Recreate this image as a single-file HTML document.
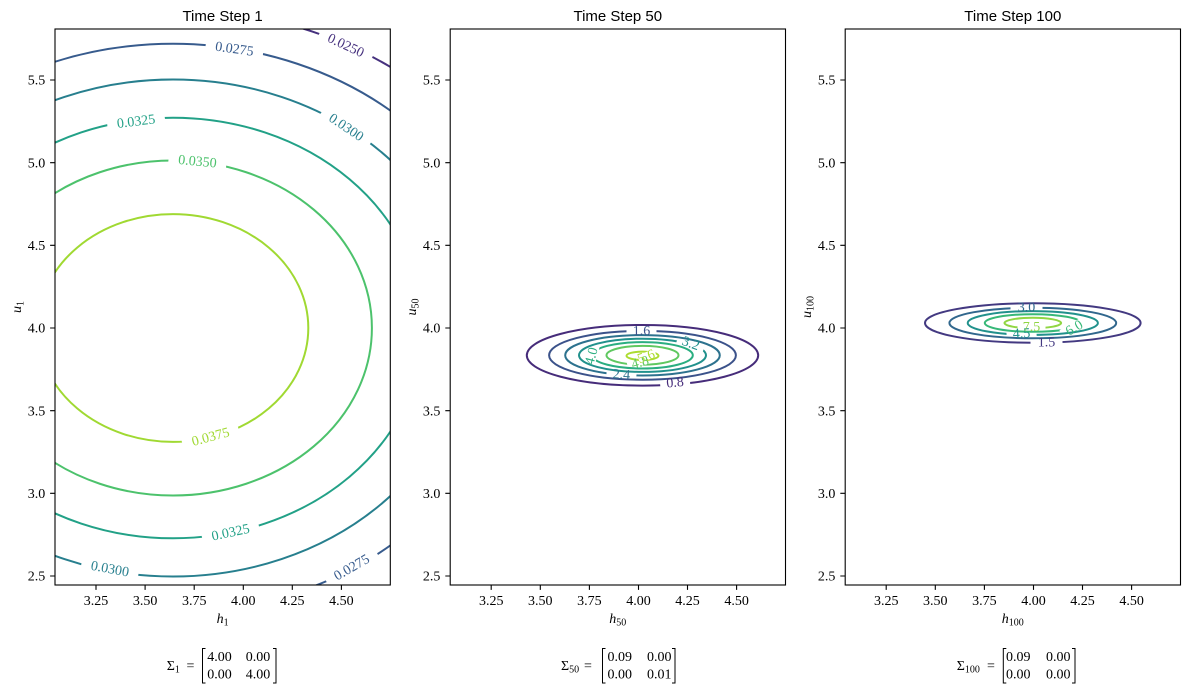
<!DOCTYPE html>
<html><head><meta charset="utf-8"><style>
html,body{margin:0;padding:0;background:#fff;}
svg{display:block;}
.t{font-family:"Liberation Serif",serif;font-size:14px;}
.ti{font-family:"Liberation Sans",sans-serif;font-size:15px;}
.lb{font-family:"Liberation Serif",serif;font-size:14px;}
</style></head><body>
<svg width="1189" height="692" viewBox="0 0 1189 692" xmlns="http://www.w3.org/2000/svg">
<rect width="1189" height="692" fill="#fff"/>
<defs>
<clipPath id="c1"><rect x="55" y="29" width="335.3" height="556"/></clipPath>
<clipPath id="c2"><rect x="450.2" y="29" width="335.3" height="556"/></clipPath>
<clipPath id="c3"><rect x="845.2" y="29" width="335.3" height="556"/></clipPath>
<mask id="p1a" maskUnits="userSpaceOnUse" x="0" y="0" width="1189" height="692"><rect width="1189" height="692" fill="#fff"/><rect x="-29" y="-7" width="58" height="14" transform="translate(346,45) rotate(25)"/></mask>
<mask id="p1b" maskUnits="userSpaceOnUse" x="0" y="0" width="1189" height="692"><rect width="1189" height="692" fill="#fff"/><rect x="-29" y="-7" width="58" height="14" transform="translate(234.5,48.5) rotate(8)"/><rect x="-29" y="-7" width="58" height="14" transform="translate(351.5,567) rotate(-30)"/></mask>
<mask id="p1c" maskUnits="userSpaceOnUse" x="0" y="0" width="1189" height="692"><rect width="1189" height="692" fill="#fff"/><rect x="-29" y="-7" width="58" height="14" transform="translate(346.5,127) rotate(34)"/><rect x="-29" y="-7" width="58" height="14" transform="translate(110,568.5) rotate(10.5)"/></mask>
<mask id="p1d" maskUnits="userSpaceOnUse" x="0" y="0" width="1189" height="692"><rect width="1189" height="692" fill="#fff"/><rect x="-29" y="-7" width="58" height="14" transform="translate(136,121) rotate(-7)"/><rect x="-29" y="-7" width="58" height="14" transform="translate(230.5,532) rotate(-12)"/></mask>
<mask id="p1e" maskUnits="userSpaceOnUse" x="0" y="0" width="1189" height="692"><rect width="1189" height="692" fill="#fff"/><rect x="-29" y="-7" width="58" height="14" transform="translate(197.5,161) rotate(5.5)"/></mask>
<mask id="p1f" maskUnits="userSpaceOnUse" x="0" y="0" width="1189" height="692"><rect width="1189" height="692" fill="#fff"/><rect x="-29" y="-7" width="58" height="14" transform="translate(210.5,436.5) rotate(-15)"/></mask>
<mask id="p2a" maskUnits="userSpaceOnUse" x="0" y="0" width="1189" height="692"><rect width="1189" height="692" fill="#fff"/><rect x="-15" y="-6" width="30" height="12" transform="translate(675,382) rotate(-5)"/></mask>
<mask id="p2b" maskUnits="userSpaceOnUse" x="0" y="0" width="1189" height="692"><rect width="1189" height="692" fill="#fff"/><rect x="-15" y="-6" width="30" height="12" transform="translate(641.5,330.5)"/></mask>
<mask id="p2c" maskUnits="userSpaceOnUse" x="0" y="0" width="1189" height="692"><rect width="1189" height="692" fill="#fff"/><rect x="-15" y="-5" width="30" height="10" transform="translate(621.5,374) rotate(4)"/></mask>
<mask id="p2d" maskUnits="userSpaceOnUse" x="0" y="0" width="1189" height="692"><rect width="1189" height="692" fill="#fff"/><rect x="-14" y="-5" width="28" height="10" transform="translate(691,343) rotate(20)"/></mask>
<mask id="p2e" maskUnits="userSpaceOnUse" x="0" y="0" width="1189" height="692"><rect width="1189" height="692" fill="#fff"/><rect x="-15" y="-6" width="30" height="12" transform="translate(591,356) rotate(-75)"/></mask>
<mask id="p2f" maskUnits="userSpaceOnUse" x="0" y="0" width="1189" height="692"><rect width="1189" height="692" fill="#fff"/><rect x="-13" y="-4" width="26" height="8" transform="translate(640,362) rotate(-15)"/></mask>
<mask id="p2g" maskUnits="userSpaceOnUse" x="0" y="0" width="1189" height="692"><rect width="1189" height="692" fill="#fff"/><rect x="-9" y="-4" width="18" height="8" transform="translate(647,356) rotate(-20)"/></mask>
<mask id="p3a" maskUnits="userSpaceOnUse" x="0" y="0" width="1189" height="692"><rect width="1189" height="692" fill="#fff"/><rect x="-16" y="-6" width="32" height="12" transform="translate(1046.5,341.7)"/></mask>
<mask id="p3b" maskUnits="userSpaceOnUse" x="0" y="0" width="1189" height="692"><rect width="1189" height="692" fill="#fff"/><rect x="-16" y="-6" width="32" height="12" transform="translate(1026.5,307)"/></mask>
<mask id="p3c" maskUnits="userSpaceOnUse" x="0" y="0" width="1189" height="692"><rect width="1189" height="692" fill="#fff"/><rect x="-15" y="-5" width="30" height="10" transform="translate(1021.5,333) rotate(-3)"/></mask>
<mask id="p3d" maskUnits="userSpaceOnUse" x="0" y="0" width="1189" height="692"><rect width="1189" height="692" fill="#fff"/><rect x="-14" y="-5" width="28" height="10" transform="translate(1074,327.5) rotate(-30)"/></mask>
<mask id="p3e" maskUnits="userSpaceOnUse" x="0" y="0" width="1189" height="692"><rect width="1189" height="692" fill="#fff"/><rect x="-14" y="-4" width="28" height="8" transform="translate(1031.5,326.5)"/></mask>
</defs>

<g clip-path="url(#c1)" fill="none" stroke-width="2">
<ellipse cx="173" cy="328" rx="378.5" ry="318.8" stroke="#46317e" mask="url(#p1a)"/>
<ellipse cx="173" cy="328" rx="337.4" ry="284.2" stroke="#375b8d" mask="url(#p1b)"/>
<ellipse cx="173" cy="328" rx="295" ry="248.5" stroke="#277f8e" mask="url(#p1c)"/>
<ellipse cx="173" cy="328" rx="249.7" ry="210.3" stroke="#22a187" mask="url(#p1d)"/>
<ellipse cx="173" cy="328" rx="198.9" ry="167.5" stroke="#4cc26c" mask="url(#p1e)"/>
<ellipse cx="173" cy="328" rx="135.3" ry="113.9" stroke="#a0d932" mask="url(#p1f)"/>
</g>
<g class="lb" text-anchor="middle">
<text x="0" y="4.7" transform="translate(346,45) rotate(25)" fill="#46317e">0.0250</text>
<text x="0" y="4.7" transform="translate(234.5,48.5) rotate(8)" fill="#375b8d">0.0275</text>
<text x="0" y="4.7" transform="translate(351.5,567) rotate(-30)" fill="#375b8d">0.0275</text>
<text x="0" y="4.7" transform="translate(346.5,127) rotate(34)" fill="#277f8e">0.0300</text>
<text x="0" y="4.7" transform="translate(110,568.5) rotate(10.5)" fill="#277f8e">0.0300</text>
<text x="0" y="4.7" transform="translate(136,121) rotate(-7)" fill="#22a187">0.0325</text>
<text x="0" y="4.7" transform="translate(230.5,532) rotate(-12)" fill="#22a187">0.0325</text>
<text x="0" y="4.7" transform="translate(197.5,161) rotate(5.5)" fill="#4cc26c">0.0350</text>
<text x="0" y="4.7" transform="translate(210.5,436.5) rotate(-15)" fill="#a0d932">0.0375</text>
</g>

<g clip-path="url(#c2)" fill="none" stroke-width="2">
<ellipse cx="642.5" cy="355.3" rx="115.7" ry="30.3" stroke="#462c7a" mask="url(#p2a)"/>
<ellipse cx="642.5" cy="355.3" rx="93.4" ry="24.4" stroke="#3b528a" mask="url(#p2b)"/>
<ellipse cx="642.5" cy="355.3" rx="77.3" ry="20.2" stroke="#2d728e" mask="url(#p2c)"/>
<ellipse cx="642.5" cy="355.3" rx="63.5" ry="16.6" stroke="#21918c" mask="url(#p2d)"/>
<ellipse cx="642.5" cy="355.3" rx="50.3" ry="13.2" stroke="#2aae80" mask="url(#p2e)"/>
<ellipse cx="642.5" cy="355.3" rx="36" ry="9.4" stroke="#5fc860" mask="url(#p2f)"/>
<ellipse cx="642.5" cy="355.8" rx="16" ry="4.2" stroke="#acdc30" mask="url(#p2g)"/>
</g>
<g class="lb" text-anchor="middle">
<text x="0" y="4.7" transform="translate(675,382) rotate(-5)" fill="#462c7a">0.8</text>
<text x="0" y="4.7" transform="translate(641.5,330.5)" fill="#3b528a">1.6</text>
<text x="0" y="4.7" transform="translate(621.5,374) rotate(4)" fill="#2d728e">2.4</text>
<text x="0" y="4.7" transform="translate(691,343) rotate(20)" fill="#21918c">3.2</text>
<text x="0" y="4.7" transform="translate(591,356) rotate(-75)" fill="#2aae80">4.0</text>
<text x="0" y="4.7" transform="translate(640,362) rotate(-15)" fill="#5fc860">4.8</text>
<text x="0" y="4.7" transform="translate(646,356) rotate(-20)" fill="#acdc30">5.6</text>
</g>

<g clip-path="url(#c3)" fill="none" stroke-width="2">
<ellipse cx="1032.8" cy="323" rx="107.8" ry="19.7" stroke="#433981" mask="url(#p3a)"/>
<ellipse cx="1032.8" cy="323" rx="83.4" ry="15.3" stroke="#31678d" mask="url(#p3b)"/>
<ellipse cx="1032.8" cy="323" rx="65.1" ry="11.9" stroke="#21918c" mask="url(#p3c)"/>
<ellipse cx="1032.8" cy="323" rx="48" ry="8.8" stroke="#37b878" mask="url(#p3d)"/>
<ellipse cx="1032.8" cy="323" rx="28.3" ry="5.2" stroke="#90d643" mask="url(#p3e)"/>
</g>
<g class="lb" text-anchor="middle">
<text x="0" y="4.7" transform="translate(1046.5,341.7)" fill="#433981">1.5</text>
<text x="0" y="4.7" transform="translate(1026.5,307)" fill="#31678d">3.0</text>
<text x="0" y="4.7" transform="translate(1021.5,333) rotate(-3)" fill="#21918c">4.5</text>
<text x="0" y="4.7" transform="translate(1074,327.5) rotate(-30)" fill="#37b878">6.0</text>
<text x="0" y="4.7" transform="translate(1031.5,326.5)" fill="#90d643">7.5</text>
</g>

<g fill="none" stroke="#000" stroke-width="1.1">
<rect x="55" y="29" width="335.3" height="556"/>
<rect x="450.2" y="29" width="335.3" height="556"/>
<rect x="845.2" y="29" width="335.3" height="556"/>
<path d="M96 585v4.9M145.1 585v4.9M194.2 585v4.9M243.3 585v4.9M292.3 585v4.9M341.4 585v4.9
M491.2 585v4.9M540.3 585v4.9M589.4 585v4.9M638.5 585v4.9M687.5 585v4.9M736.6 585v4.9
M886.2 585v4.9M935.3 585v4.9M984.4 585v4.9M1033.5 585v4.9M1082.5 585v4.9M1131.6 585v4.9
M55 576h-4.9M55 493.3h-4.9M55 410.7h-4.9M55 328h-4.9M55 245.3h-4.9M55 162.7h-4.9M55 80h-4.9
M450.2 576h-4.9M450.2 493.3h-4.9M450.2 410.7h-4.9M450.2 328h-4.9M450.2 245.3h-4.9M450.2 162.7h-4.9M450.2 80h-4.9
M845.2 576h-4.9M845.2 493.3h-4.9M845.2 410.7h-4.9M845.2 328h-4.9M845.2 245.3h-4.9M845.2 162.7h-4.9M845.2 80h-4.9"/>
</g>

<g class="t" text-anchor="middle" fill="#000">
<text x="96" y="605">3.25</text><text x="145.1" y="605">3.50</text><text x="194.2" y="605">3.75</text><text x="243.3" y="605">4.00</text><text x="292.3" y="605">4.25</text><text x="341.4" y="605">4.50</text>
<text x="491.2" y="605">3.25</text><text x="540.3" y="605">3.50</text><text x="589.4" y="605">3.75</text><text x="638.5" y="605">4.00</text><text x="687.5" y="605">4.25</text><text x="736.6" y="605">4.50</text>
<text x="886.2" y="605">3.25</text><text x="935.3" y="605">3.50</text><text x="984.4" y="605">3.75</text><text x="1033.5" y="605">4.00</text><text x="1082.5" y="605">4.25</text><text x="1131.6" y="605">4.50</text>
</g>
<g class="t" text-anchor="end" fill="#000">
<text x="45.2" y="580.7">2.5</text><text x="45.2" y="498">3.0</text><text x="45.2" y="415.4">3.5</text><text x="45.2" y="332.7">4.0</text><text x="45.2" y="250">4.5</text><text x="45.2" y="167.4">5.0</text><text x="45.2" y="84.7">5.5</text>
<text x="440.4" y="580.7">2.5</text><text x="440.4" y="498">3.0</text><text x="440.4" y="415.4">3.5</text><text x="440.4" y="332.7">4.0</text><text x="440.4" y="250">4.5</text><text x="440.4" y="167.4">5.0</text><text x="440.4" y="84.7">5.5</text>
<text x="835.4" y="580.7">2.5</text><text x="835.4" y="498">3.0</text><text x="835.4" y="415.4">3.5</text><text x="835.4" y="332.7">4.0</text><text x="835.4" y="250">4.5</text><text x="835.4" y="167.4">5.0</text><text x="835.4" y="84.7">5.5</text>
</g>

<g class="ti" text-anchor="middle" fill="#000">
<text x="222.6" y="21">Time Step 1</text>
<text x="617.8" y="21">Time Step 50</text>
<text x="1012.8" y="21">Time Step 100</text>
</g>

<g class="t" text-anchor="middle" fill="#000">
<text x="222.6" y="623"><tspan font-style="italic">h</tspan><tspan font-size="10" dy="2.5">1</tspan></text>
<text x="617.8" y="623"><tspan font-style="italic">h</tspan><tspan font-size="10" dy="2.5">50</tspan></text>
<text x="1012.8" y="623"><tspan font-style="italic">h</tspan><tspan font-size="10" dy="2.5">100</tspan></text>
</g>
<g class="t" text-anchor="middle" fill="#000">
<text x="0" y="0" transform="translate(21,307) rotate(-90)"><tspan font-style="italic">u</tspan><tspan font-size="10" dy="2.5">1</tspan></text>
<text x="0" y="0" transform="translate(416.2,307) rotate(-90)"><tspan font-style="italic">u</tspan><tspan font-size="10" dy="2.5">50</tspan></text>
<text x="0" y="0" transform="translate(811.2,307) rotate(-90)"><tspan font-style="italic">u</tspan><tspan font-size="10" dy="2.5">100</tspan></text>
</g>

<g class="t" fill="#000">
<text x="166.7" y="670">Σ<tspan font-size="10" dy="2.5">1</tspan></text>
<text x="186.5" y="670">=</text>
<text x="207.3" y="661">4.00</text><text x="245.7" y="661">0.00</text>
<text x="207.3" y="678.5">0.00</text><text x="245.7" y="678.5">4.00</text>

<text x="561" y="670">Σ<tspan font-size="10" dy="2.5">50</tspan></text>
<text x="584" y="670">=</text>
<text x="607.5" y="661">0.09</text><text x="647" y="661">0.00</text>
<text x="607.5" y="678.5">0.00</text><text x="647" y="678.5">0.01</text>

<text x="956.7" y="670">Σ<tspan font-size="10" dy="2.5">100</tspan></text>
<text x="987" y="670">=</text>
<text x="1006" y="661">0.09</text><text x="1046" y="661">0.00</text>
<text x="1006" y="678.5">0.00</text><text x="1046" y="678.5">0.00</text>
</g>
<g fill="none" stroke="#000" stroke-width="1">
<path d="M205.5 648.5H202.5V683H205.5M273 648.5H276V683H273"/>
<path d="M605.5 648.5H602.5V683H605.5M672 648.5H675V683H672"/>
<path d="M1006.3 648.5H1003.3V683H1006.3M1072 648.5H1075V683H1072"/>
</g>
</svg>
</body></html>
